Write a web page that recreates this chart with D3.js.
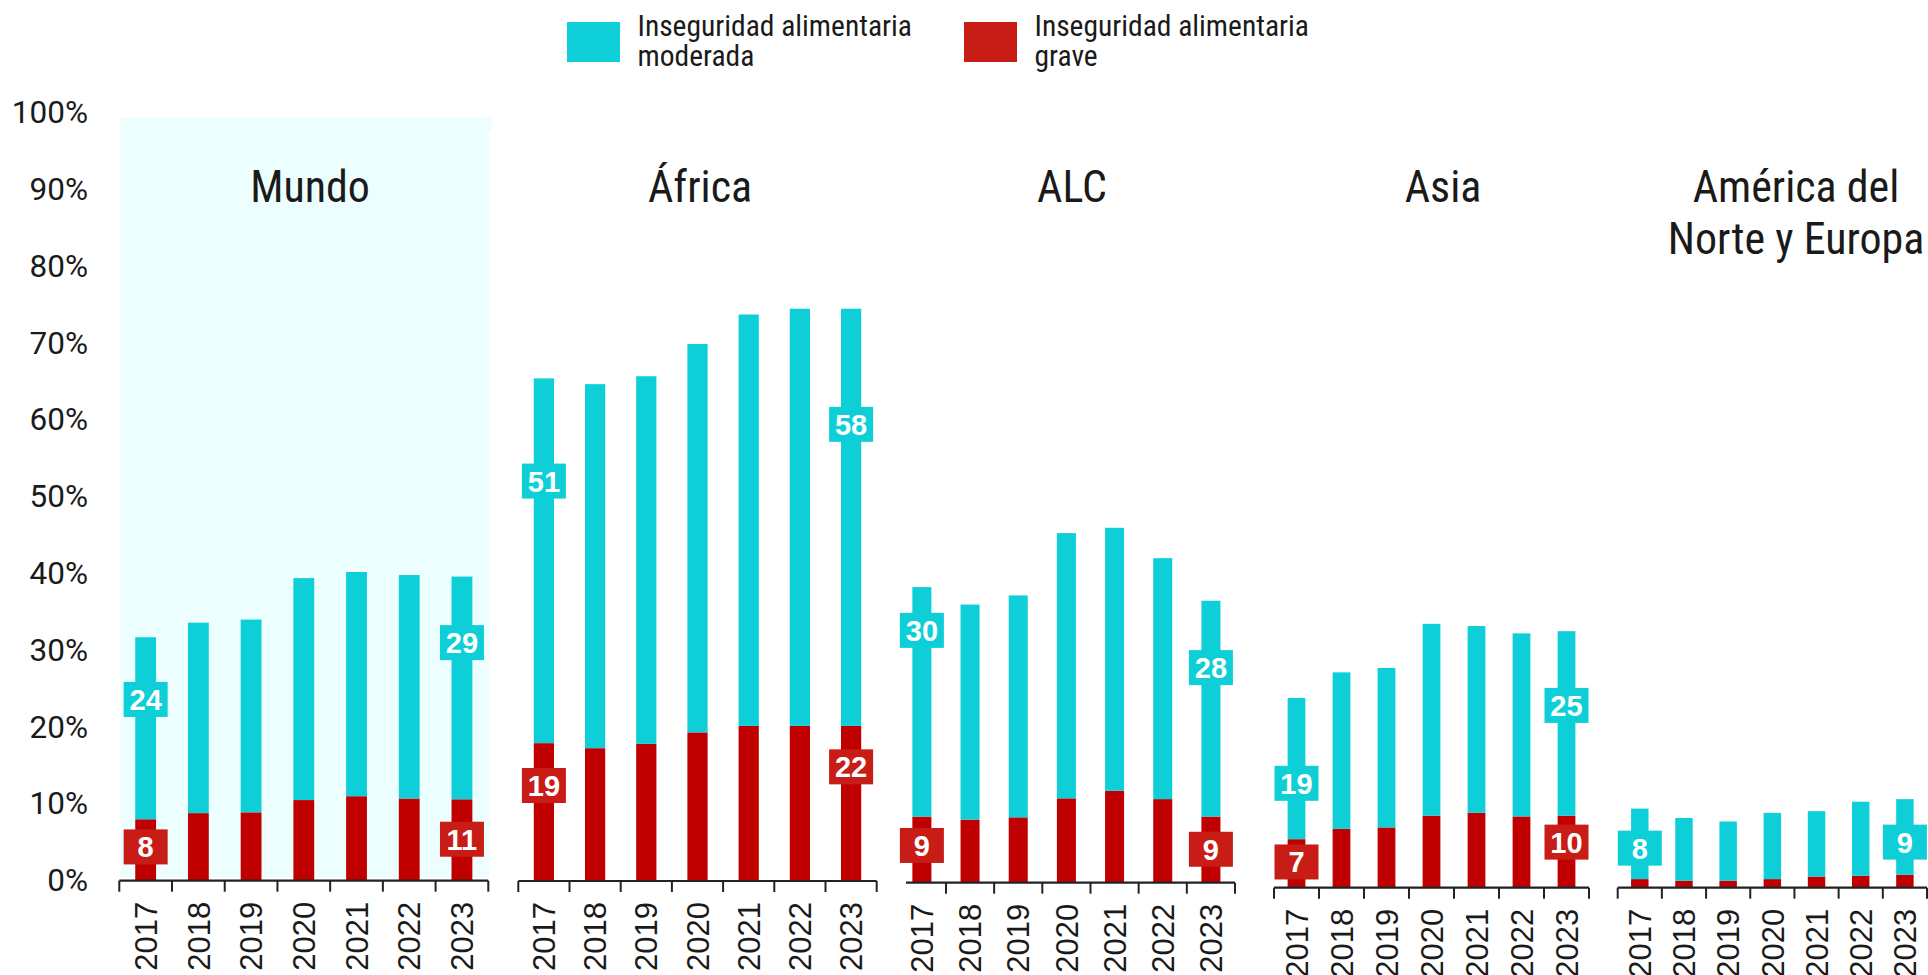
<!DOCTYPE html>
<html>
<head>
<meta charset="utf-8">
<script src="https://cdn.jsdelivr.net/npm/d3@7"></script>
<style>
  html, body { margin: 0; padding: 0; background: #ffffff; }
  svg { display: block; }
</style>
</head>
<body>
<svg id="chart" width="1928" height="975"></svg>
<script>
// ---------------- DATA ----------------
const years = [2017, 2018, 2019, 2020, 2021, 2022, 2023];
const regions = ["Mundo", "África", "ALC", "Asia", "América del Norte y Europa"];
const seriesNames = ["Inseguridad alimentaria moderada", "Inseguridad alimentaria grave"];
const yTicks = [0, 10, 20, 30, 40, 50, 60, 70, 80, 90, 100];

// severe food insecurity (red, bottom segment), %
const severeMundo  = [8.0, 8.8, 8.9, 10.5, 11.0, 10.7, 10.6];
const severeAfrica = [19.2, 18.5, 19.1, 20.7, 21.6, 21.6, 21.6];
const severeALC    = [8.7, 8.3, 8.6, 11.1, 12.1, 11.0, 8.7];
const severeAsia   = [6.6, 8.0, 8.2, 9.8, 10.2, 9.7, 9.8];
const severeNAE    = [1.0, 0.8, 0.8, 1.0, 1.3, 1.4, 1.5];

// moderate food insecurity (cyan, top segment), %
const moderateMundo  = [23.7, 24.8, 25.1, 28.9, 29.2, 29.1, 29.0];
const moderateAfrica = [50.8, 50.7, 51.2, 54.1, 57.3, 58.1, 58.1];
const moderateALC    = [30.2, 28.3, 29.2, 34.9, 34.6, 31.7, 28.4];
const moderateAsia   = [19.2, 21.3, 21.7, 26.1, 25.4, 24.9, 25.1];
const moderateNAE    = [8.2, 7.3, 6.9, 7.7, 7.6, 8.6, 8.8];

// level (in % units) where each value label sits: [first-year moderate, first-year severe, last-year moderate, last-year severe]
const labelAtMundo  = [23.6, 4.4, 31.0, 5.4];
const labelAtAfrica = [55.7, 13.3, 63.6, 15.9];
const labelAtALC    = [33.2, 4.9, 28.3, 4.4];
const labelAtAsia   = [14.2, 3.5, 24.8, 6.2];
const labelAtNAE    = [4.6, null, 5.3, null];

const severeByRegion   = [severeMundo, severeAfrica, severeALC, severeAsia, severeNAE];
const moderateByRegion = [moderateMundo, moderateAfrica, moderateALC, moderateAsia, moderateNAE];
const labelAtByRegion  = [labelAtMundo, labelAtAfrica, labelAtALC, labelAtAsia, labelAtNAE];

// ---------------- LAYOUT / STYLE ----------------
const COL_MOD = "#0ecfd8";
const COL_SEV = "#c00000";
const COL_SEV_LABEL = "#c81d16";
const COL_TEXT = "#1a1a1a";
const COL_BG = "#edfefe";

const panels = [
  { x0: 119.3,  x1: 488.3, base: 880.7, ppu: 7.68, titleX: 310,  titleLines: ["Mundo"] },
  { x0: 518.3,  x1: 876.7, base: 881.0, ppu: 7.18, titleX: 700,  titleLines: ["África"] },
  { x0: 897.8,  x1: 1235,  base: 882.7, ppu: 7.60, titleX: 1072, titleLines: ["ALC"], axisStart: 906, skipFirstTick: true },
  { x0: 1274,   x1: 1589,  base: 887.7, ppu: 7.35, titleX: 1443, titleLines: ["Asia"] },
  { x0: 1617.7, x1: 1927,  base: 887.7, ppu: 8.60, titleX: 1796, titleLines: ["América del", "Norte y Europa"] }
];
const barRatio = 0.395;

const svg = d3.select("#chart");

// condensed-font helper (Roboto Condensed is not installed: squeeze Roboto if needed)
const probe = svg.append("text").attr("font-family", "'Roboto Condensed', Roboto, sans-serif")
  .attr("font-size", 44).text("Mundo");
const probeW = probe.node().getComputedTextLength();
probe.remove();
const condK = probeW > 125 ? 0.83 : 1;

function condText(parent, x, y, str, size, anchor) {
  return parent.append("text")
    .attr("transform", `translate(${x},${y}) scale(${condK},1)`)
    .attr("font-family", "'Roboto Condensed', Roboto, sans-serif")
    .attr("font-size", size)
    .attr("fill", COL_TEXT)
    .attr("text-anchor", anchor || "start")
    .text(str);
}

// Mundo background
svg.append("rect").attr("x", 120.5).attr("y", 117.5).attr("width", 368.5).attr("height", 759.5).attr("fill", COL_BG);
svg.append("rect").attr("x", 488).attr("y", 117.5).attr("width", 3.7).attr("height", 14.5).attr("fill", COL_BG);

// Legend
const legend = svg.append("g");
[[567, COL_MOD, ["Inseguridad alimentaria", "moderada"]],
 [964, COL_SEV_LABEL, ["Inseguridad alimentaria", "grave"]]].forEach(([lx, col, lines]) => {
  legend.append("rect").attr("x", lx).attr("y", 22).attr("width", 53).attr("height", 40).attr("fill", col);
  lines.forEach((ln, i) => condText(legend, lx + 70.5, 35.5 + i * 30, ln, 29.5, "start"));
});

// Y axis (Mundo scale)
const yMundo = d3.scaleLinear().domain([0, 100]).range([panels[0].base, panels[0].base - 100 * panels[0].ppu]);
const yAxisG = svg.append("g").attr("transform", "translate(88,0)")
  .call(d3.axisLeft(yMundo).tickValues(yTicks).tickSize(0).tickPadding(0).tickFormat(d => d + "%"));
yAxisG.select(".domain").remove();
yAxisG.selectAll("text")
  .attr("font-family", "Roboto, sans-serif")
  .attr("font-size", 31.5)
  .attr("fill", COL_TEXT);

// Panels
panels.forEach((p, pi) => {
  const x = d3.scaleBand().domain(years).range([p.x0, p.x1]).paddingInner(0).paddingOuter(0);
  const y = d3.scaleLinear().domain([0, 100]).range([p.base, p.base - 100 * p.ppu]);
  const sev = severeByRegion[pi], mod = moderateByRegion[pi], lab = labelAtByRegion[pi];
  const bw = x.bandwidth() * barRatio;
  const g = svg.append("g");

  const rows = years.map((yr, i) => ({ yr, sev: sev[i], mod: mod[i] }));

  // severe (bottom)
  g.selectAll(".sev").data(rows).join("rect")
    .attr("x", d => x(d.yr) + (x.bandwidth() - bw) / 2)
    .attr("width", bw)
    .attr("y", d => y(d.sev))
    .attr("height", d => y(0) - y(d.sev))
    .attr("fill", COL_SEV);
  // moderate (stacked on top)
  g.selectAll(".mod").data(rows).join("rect")
    .attr("x", d => x(d.yr) + (x.bandwidth() - bw) / 2)
    .attr("width", bw)
    .attr("y", d => y(d.sev + d.mod))
    .attr("height", d => y(d.sev) - y(d.sev + d.mod))
    .attr("fill", COL_MOD);

  // axis line + boundary ticks
  const ax = svg.append("g");
  const aStart = p.axisStart != null ? p.axisStart : p.x0;
  ax.append("line").attr("x1", aStart).attr("x2", p.x1).attr("y1", p.base).attr("y2", p.base)
    .attr("stroke", "#222").attr("stroke-width", 2.2);
  const bounds = years.map(yr => x(yr)).concat([p.x1]);
  bounds.forEach((bx, i) => {
    if (i === 0 && p.skipFirstTick) return;
    ax.append("line").attr("x1", bx).attr("x2", bx).attr("y1", p.base).attr("y2", p.base + 11)
      .attr("stroke", "#222").attr("stroke-width", 2);
  });
  // year labels (rotated)
  years.forEach(yr => {
    ax.append("text")
      .attr("transform", `translate(${x(yr) + x.bandwidth() / 2},${p.base + 21}) rotate(-90)`)
      .attr("text-anchor", "end")
      .attr("dy", "0.36em")
      .attr("font-family", "'Liberation Sans', Arial, sans-serif")
      .attr("font-size", 31)
      .attr("fill", COL_TEXT)
      .text(yr);
  });

  // title
  p.titleLines.forEach((t, i) => condText(svg, p.titleX, 202 + i * 52, t, 44, "middle"));

  // value labels for first and last year
  const labelSpecs = [
    { i: 0, v: mod[0], at: lab[0], col: COL_MOD },
    { i: 0, v: sev[0], at: lab[1], col: COL_SEV_LABEL },
    { i: years.length - 1, v: mod[years.length - 1], at: lab[2], col: COL_MOD },
    { i: years.length - 1, v: sev[years.length - 1], at: lab[3], col: COL_SEV_LABEL }
  ].filter(s => s.at != null);
  labelSpecs.forEach(s => {
    const cx = x(years[s.i]) + x.bandwidth() / 2;
    const cy = y(s.at);
    g.append("rect").attr("x", cx - 22).attr("y", cy - 17.5).attr("width", 44).attr("height", 35).attr("fill", s.col);
    g.append("text").attr("x", cx).attr("y", cy).attr("dy", "0.36em")
      .attr("text-anchor", "middle")
      .attr("font-family", "'Liberation Sans', Arial, sans-serif")
      .attr("font-weight", "bold")
      .attr("font-size", 29)
      .attr("fill", "#ffffff")
      .text(Math.round(s.v));
  });
});
</script>
</body>
</html>
